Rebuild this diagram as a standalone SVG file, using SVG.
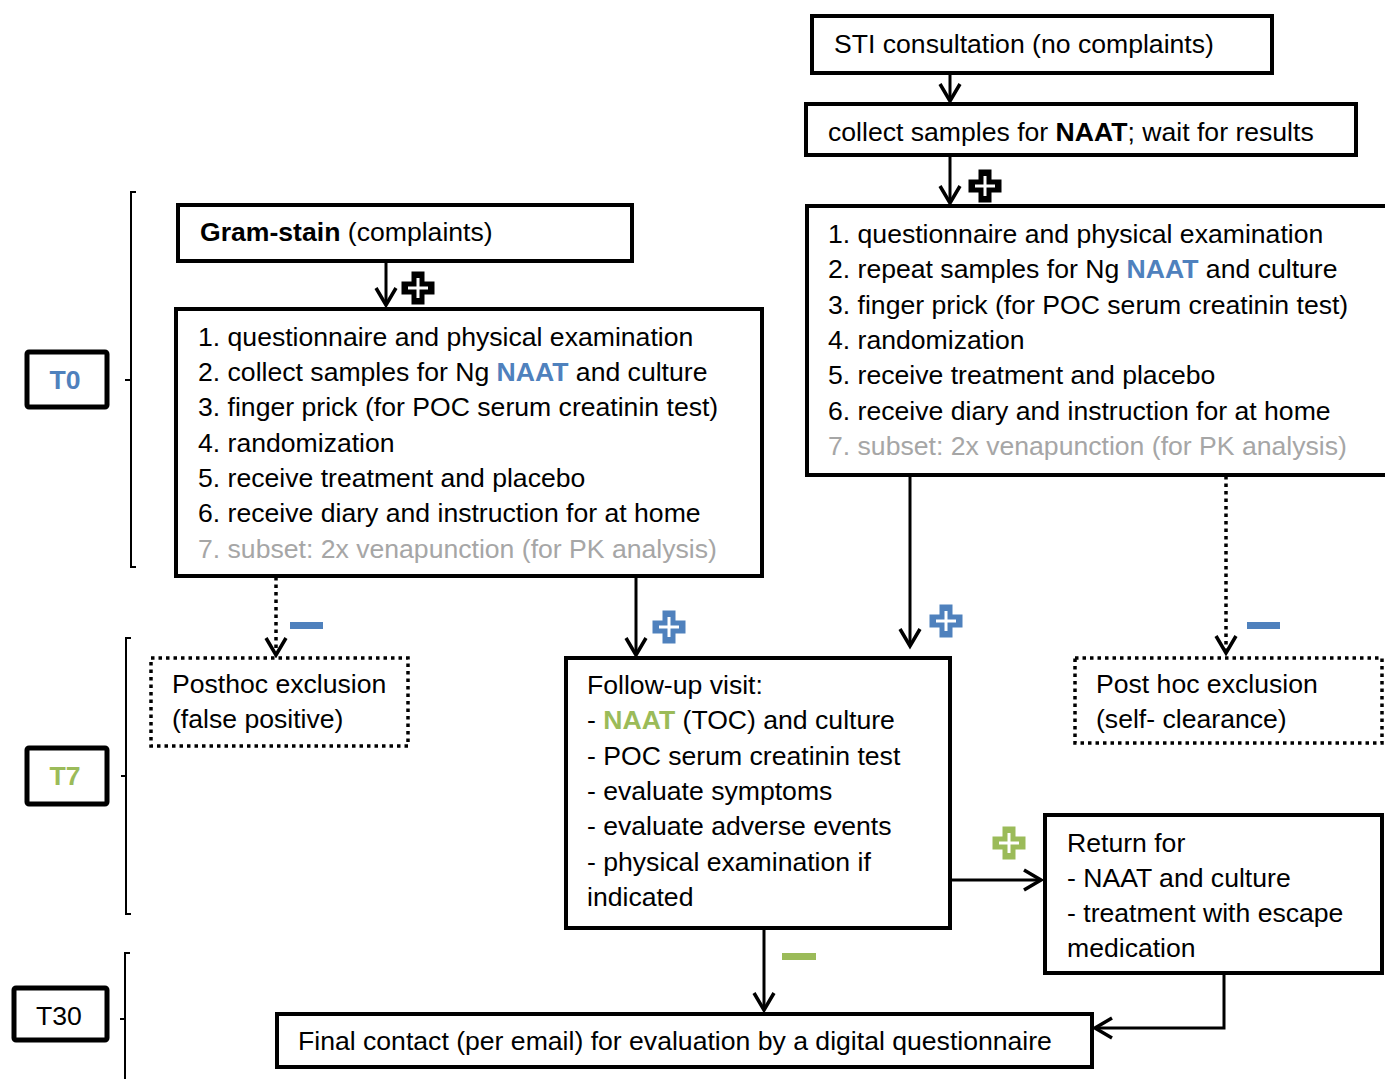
<svg xmlns="http://www.w3.org/2000/svg" width="1385" height="1079" viewBox="0 0 1385 1079">
<style>
text{font-family:"Liberation Sans",Arial,sans-serif;font-size:26.6px;fill:#000}
.box{fill:#fff;stroke:#000;stroke-width:4}
.dbox{fill:#fff;stroke:#000;stroke-width:3.5;stroke-dasharray:3.5 4}
.tbox{fill:#fff;stroke:#000;stroke-width:5}
.con{fill:none;stroke:#000;stroke-width:3}
.dot{fill:none;stroke:#000;stroke-width:3.5;stroke-dasharray:3.5 4}
.brace{fill:none;stroke:#000;stroke-width:2}
.b{font-weight:bold}
.blue{fill:#4F81BD}
.green{fill:#9BBB59}
.grey{fill:#A6A6A6}
</style>
<defs>
<marker id="ah" markerUnits="userSpaceOnUse" markerWidth="30" markerHeight="30" viewBox="-20 -15 30 30" refX="0" refY="0" orient="auto">
<path d="M-17,-10 L0,0 L-17,10" fill="none" stroke="#000" stroke-width="3.5"/>
</marker>
<path id="cross" d="M-6.5,-16.5 H6.5 V-6.5 H16.5 V6.5 H6.5 V16.5 H-6.5 V6.5 H-16.5 V-6.5 H-6.5 Z"/>
<path id="icross" d="M0,-10 V10 M-10,0 H10" fill="none" stroke="#fff" stroke-width="3"/>
</defs>

<g id="brackets">
<path class="brace" d="M136,192 H131 V567 H136 M131,380 H125"/>
<path class="brace" d="M131,638 H126 V914 H131 M126,776 H121"/>
<path class="brace" d="M130,953 H125 V1079 M125,1019 H120"/>
</g>

<g id="T0"><rect class="tbox" x="27" y="352" width="80" height="55" rx="2"/><text x="65" y="389" text-anchor="middle" class="b blue">T0</text></g>
<g id="T7"><rect class="tbox" x="27" y="748" width="80" height="56" rx="2"/><text x="65" y="785" text-anchor="middle" class="b green">T7</text></g>
<g id="T30"><rect class="tbox" x="14" y="988" width="93" height="52" rx="2"/><text x="59" y="1025" text-anchor="middle">T30</text></g>

<g id="connectors">
<line class="con" x1="950" y1="74" x2="950" y2="101" marker-end="url(#ah)"/>
<line class="con" x1="950" y1="156" x2="950" y2="203" marker-end="url(#ah)"/>
<line class="con" x1="386" y1="262" x2="386" y2="305" marker-end="url(#ah)"/>
<line class="dot" x1="276" y1="577" x2="276" y2="655"/>
<path d="M266,638 L276,655 L286,638" fill="none" stroke="#000" stroke-width="3.5"/>
<line class="con" x1="636" y1="577" x2="636" y2="655" marker-end="url(#ah)"/>
<line class="con" x1="910" y1="476" x2="910" y2="646" marker-end="url(#ah)"/>
<line class="dot" x1="1226" y1="476" x2="1226" y2="653"/>
<path d="M1216,636 L1226,653 L1236,636" fill="none" stroke="#000" stroke-width="3.5"/>
<line class="con" x1="952" y1="880" x2="1041" y2="880" marker-end="url(#ah)"/>
<line class="con" x1="764" y1="929" x2="764" y2="1010" marker-end="url(#ah)"/>
<path class="con" d="M1224,974 V1028 H1095" marker-end="url(#ah)"/>
</g>

<g id="signs">
<g transform="translate(418,288)"><use href="#cross" fill="#000"/><use href="#icross"/></g>
<g transform="translate(985,186)"><use href="#cross" fill="#000"/><use href="#icross"/></g>
<g transform="translate(669,627)"><use href="#cross" fill="#4F81BD"/><use href="#icross"/></g>
<g transform="translate(946,621)"><use href="#cross" fill="#4F81BD"/><use href="#icross"/></g>
<g transform="translate(1009,843)"><use href="#cross" fill="#9BBB59"/><use href="#icross"/></g>
<rect x="290" y="622" width="33" height="7" fill="#4F81BD"/>
<rect x="1247" y="622" width="33" height="7" fill="#4F81BD"/>
<rect x="782" y="953" width="34" height="7" fill="#9BBB59"/>
</g>

<g id="sti"><rect class="box" x="812" y="16" width="460" height="57"/><text x="834" y="53">STI consultation (no complaints)</text></g>
<g id="collect"><rect class="box" x="806" y="104" width="550" height="51"/><text x="828" y="141">collect samples for <tspan class="b">NAAT</tspan>; wait for results</text></g>

<g id="right-main"><rect class="box" x="807" y="206" width="600" height="269"/>
<text x="828" y="243">1. questionnaire and physical examination</text>
<text x="828" y="278">2. repeat samples for Ng <tspan class="b blue">NAAT</tspan> and culture</text>
<text x="828" y="314">3. finger prick (for POC serum creatinin test)</text>
<text x="828" y="349">4. randomization</text>
<text x="828" y="384">5. receive treatment and placebo</text>
<text x="828" y="420">6. receive diary and instruction for at home</text>
<text x="828" y="455" class="grey">7. subset: 2x venapunction (for PK analysis)</text>
</g>

<g id="gram"><rect class="box" x="178" y="205" width="454" height="56"/><text x="200" y="241"><tspan class="b">Gram-stain</tspan> (complaints)</text></g>

<g id="left-main"><rect class="box" x="176" y="309" width="586" height="267"/>
<text x="198" y="346">1. questionnaire and physical examination</text>
<text x="198" y="381">2. collect samples for Ng <tspan class="b blue">NAAT</tspan> and culture</text>
<text x="198" y="416">3. finger prick (for POC serum creatinin test)</text>
<text x="198" y="452">4. randomization</text>
<text x="198" y="487">5. receive treatment and placebo</text>
<text x="198" y="522">6. receive diary and instruction for at home</text>
<text x="198" y="558" class="grey">7. subset: 2x venapunction (for PK analysis)</text>
</g>

<g id="posthoc-left"><rect class="dbox" x="151" y="658" width="257" height="88"/>
<text x="172" y="693">Posthoc exclusion</text><text x="172" y="728">(false positive)</text></g>

<g id="followup"><rect class="box" x="566" y="658" width="384" height="270"/>
<text x="587" y="694">Follow-up visit:</text>
<text x="587" y="729">- <tspan class="b green">NAAT</tspan> (TOC) and culture</text>
<text x="587" y="765">- POC serum creatinin test</text>
<text x="587" y="800">- evaluate symptoms</text>
<text x="587" y="835">- evaluate adverse events</text>
<text x="587" y="871">- physical examination if</text>
<text x="587" y="906">indicated</text>
</g>

<g id="posthoc-right"><rect class="dbox" x="1075" y="658" width="307" height="85"/>
<text x="1096" y="693">Post hoc exclusion</text><text x="1096" y="728">(self- clearance)</text></g>

<g id="return"><rect class="box" x="1045" y="815" width="337" height="158"/>
<text x="1067" y="852">Return for</text>
<text x="1067" y="887">- NAAT and culture</text>
<text x="1067" y="922">- treatment with escape</text>
<text x="1067" y="957">medication</text>
</g>

<g id="final"><rect class="box" x="277" y="1014" width="815" height="53"/>
<text x="298" y="1050">Final contact (per email) for evaluation by a digital questionnaire</text></g>
</svg>
